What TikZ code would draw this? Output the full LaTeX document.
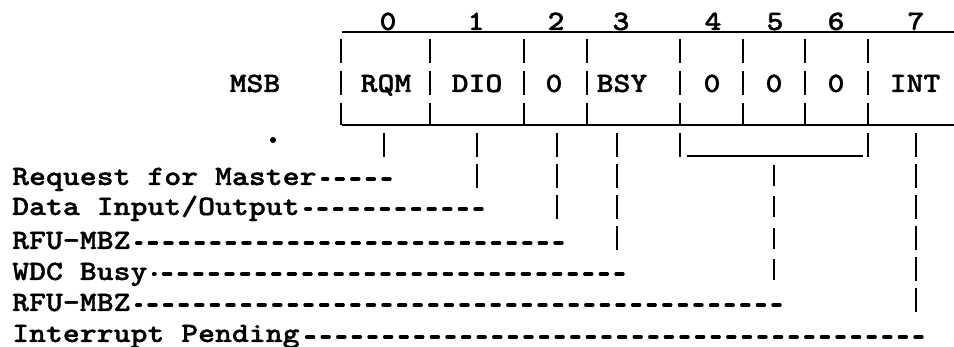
\documentclass[tikz,border=0pt]{standalone}
\usepackage{fontspec}
\newfontfamily\tw[FakeStretch=1.15,FakeBold=1.2]{lmmonolt10-bold.otf}
\begin{document}
\begin{tikzpicture}[x=1pt,y=-1pt,
  txt/.style={font=\tw\fontsize{28}{30}\selectfont, inner sep=0pt, anchor=base},
  lbl/.style={txt, anchor=base west},
  boxline/.style={line width=2.4pt},
  sepline/.style={line width=2.8pt, dash pattern=on 24pt off 8pt},
  vbar/.style={line width=2.8pt, dash pattern=on 24pt off 7pt},
  hdash/.style={line width=3.4pt, line cap=round, dash pattern=on 7pt off 8.6pt},
]
\useasboundingbox (0,0) rectangle (954,347);
% register outline
\coordinate (tl) at (342,32); \coordinate (tr) at (954,32);
\coordinate (bl) at (342,125); \coordinate (br) at (954,125);
\draw[boxline] (tl) -- (tr);
\draw[boxline] (bl) -- (br);
\foreach \x [count=\i] in {341,430,524,587,680,743,805,868} {
  \coordinate (st\i) at (\x,39); \coordinate (sb\i) at (\x,125);
  \draw[sepline] (st\i) -- (sb\i);
}
% bit numbers
\foreach \d/\x in {0/388,1/476,2/556,3/621,4/713,5/775,6/836,7/916}
  \node[txt] (bit\d) at (\x,30) {\d};
% cell contents
\node[txt] (msb) at (255,92) {MSB};
\node[txt] (rqm) at (386,92) {RQM};
\node[txt] (dio) at (477,92) {DIO};
\node[txt] (z2)  at (554,92) {0};
\node[txt] (bsy) at (622,92) {BSY};
\node[txt] (z4)  at (712,92) {0};
\node[txt] (z5)  at (774,92) {0};
\node[txt] (z6)  at (836,92) {0};
\node[txt] (int) at (915,92) {INT};
\fill (273,140) circle (3pt);
% descriptions
\node[lbl] (lrqm) at (12,185) {Request for Master};
\node[lbl] (ldio) at (12,215) {Data Input/Output};
\node[lbl] (lr1)  at (12,249) {RFU-MBZ};
\node[lbl] (lbsy) at (12,280) {WDC Busy};
\node[lbl] (lr2)  at (12,311) {RFU-MBZ};
\node[lbl] (lint) at (12,342) {Interrupt Pending};
% end points of horizontal leaders
\coordinate (hrqm) at (390,179);
\coordinate (hdio) at (482,209);
\coordinate (hr1)  at (562,243);
\coordinate (hbsy) at (623,274);
\coordinate (hr2)  at (780,305);
\coordinate (hint) at (922,337);
\path (lrqm.east |- hrqm) ++(6,0) coordinate (arqm);
\path (ldio.east |- hdio) ++(6,0) coordinate (adio);
\path (lr1.east |- hr1) ++(6,0) coordinate (ar1);
\path (lbsy.east |- hbsy) ++(6,0) coordinate (absy);
\path (lr2.east |- hr2) ++(6,0) coordinate (ar2);
\path (lint.east |- hint) ++(6,0) coordinate (aint);
\draw[hdash] (hrqm) -- (arqm);
\draw[hdash] (hdio) -- (adio);
\draw[hdash] (hr1) -- (ar1);
\draw[hdash] (hbsy) -- (absy);
\draw[hdash] (hr2) -- (ar2);
\draw[hdash] (hint) -- (aint);
% vertical leaders
\coordinate (vrqm) at (384,133); \coordinate (wrqm) at (384,157);
\coordinate (vdio) at (477,133); \coordinate (wdio) at (477,188);
\coordinate (vz2)  at (557,133); \coordinate (wz2)  at (557,220);
\coordinate (vbsy) at (617,133); \coordinate (wbsy) at (617,252);
\coordinate (vint) at (916,133); \coordinate (wint) at (916,315);
\draw[vbar] (vrqm) -- (wrqm);
\draw[vbar] (vdio) -- (wdio);
\draw[vbar] (vz2) -- (wz2);
\draw[vbar] (vbsy) -- (wbsy);
\draw[vbar] (vint) -- (wint);
% bracket for bits 4-6
\coordinate (kl1) at (680,133); \coordinate (kl2) at (680,157);
\coordinate (kr1) at (868,133); \coordinate (kr2) at (868,157);
\coordinate (kh1) at (687,156); \coordinate (kh2) at (863,156);
\coordinate (kc1) at (774,165); \coordinate (kc2) at (774,283);
\draw[line width=2.8pt] (kl1) -- (kl2);
\draw[line width=2.8pt] (kr1) -- (kr2);
\draw[boxline] (kh1) -- (kh2);
\draw[line width=2.8pt, dash pattern=on 21pt off 10.5pt] (kc1) -- (kc2);
\end{tikzpicture}
\end{document}
